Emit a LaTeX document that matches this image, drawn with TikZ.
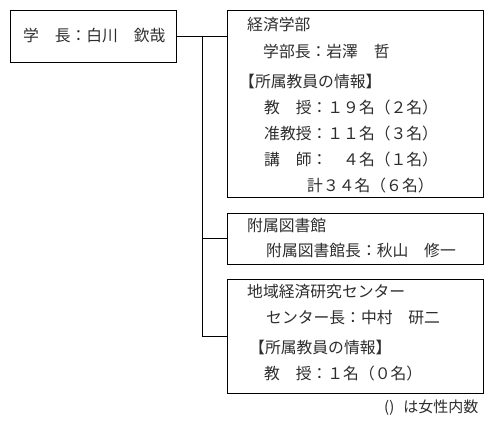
\documentclass[tikz,border=0pt]{standalone}
\usepackage{fontspec}
\setmainfont{Noto Sans CJK JP}
\definecolor{txtgray}{RGB}{45,45,45}
\begin{document}
\begin{tikzpicture}[x=1pt,y=-1pt,
  box/.style={draw=black,line width=1pt,rectangle,inner sep=0pt},
  txt/.style={anchor=west,inner sep=0pt,text=txtgray,font=\fontsize{15.8}{18}\selectfont},
  note/.style={anchor=west,inner sep=0pt,text=txtgray,font=\fontsize{15}{17}\selectfont},
  conn/.style={draw=black,line width=1pt}]
\useasboundingbox (0,0) rectangle (493,426);
\fill[white] (0,0) rectangle (493,426);
% boxes
\node[box,minimum width=166pt,minimum height=52pt] (pres) at (93,36) {};
\node[box,minimum width=256pt,minimum height=187pt] (box1) at (355,103.5) {};
\node[box,minimum width=256pt,minimum height=51pt] (box2) at (355,238.5) {};
\node[box,minimum width=256pt,minimum height=114pt] (box3) at (355,336) {};
% texts
\node[txt] (t0) at (23,36) {学　長：白川　欽哉};
\node[txt] (t11) at (247,25) {経済学部};
\node[txt] (t12) at (263,51) {学部長：岩澤　哲};
\node[txt] (t13) at (239,81) {【所属教員の情報】};
\node[txt] (t14) at (264,107) {教　授：１９名（２名）};
\node[txt] (t15) at (264,133) {准教授：１１名（３名）};
\node[txt] (t16) at (264,159) {講　師：　４名（１名）};
\node[txt] (t17) at (307,185) {計３４名（６名）};
\node[txt] (t21) at (247,225) {附属図書館};
\node[txt] (t22) at (266,250) {附属図書館長：秋山　修一};
\node[txt] (t31) at (247,292) {地域経済研究センター};
\node[txt] (t32) at (266,318) {センター長：中村　研二};
\node[txt] (t33) at (249,347) {【所属教員の情報】};
\node[txt] (t34) at (264,373) {教　授：１名（０名）};
\node[note] (nt) at (384,408) {()\hspace{9pt}は女性内数};
% connectors
\coordinate (jt) at (202,36);
\coordinate (jb) at (202,336);
\coordinate (j2) at (202,238.5);
\draw[conn] (pres.east) -- (pres.east -| box1.west);
\draw[conn] (jt) -- (jb) -- (box3.west);
\draw[conn] (j2) -- (box2.west);
\end{tikzpicture}
\end{document}
